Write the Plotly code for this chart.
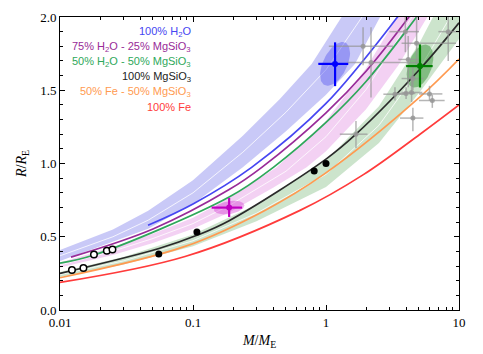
import numpy as np
import plotly.graph_objects as go

# composition curves, mass in M_E, radius in R_E
fe_m = [0.01, 0.0871, 0.638, 1.91, 5.09, 10]
fe_r = [0.188, 0.365, 0.68, 0.924, 1.20, 1.40]

fe50_m = [0.01, 0.0871, 0.347, 0.98, 5.09, 10]
fe50_r = [0.220, 0.434, 0.680, 0.931, 1.455, 1.713]

mgsio3_m = [0.01, 0.0555, 0.107, 0.187, 1.0, 1.68, 5.09, 10]
mgsio3_r = [0.25, 0.42, 0.51, 0.61, 1.03, 1.20, 1.645, 1.96]

h2o50_m = [0.01, 0.018, 0.187, 0.402, 1.0, 2.0, 4.8, 7.0]
h2o50_r = [0.32, 0.375, 0.771, 0.974, 1.28, 1.56, 2.0, 2.2]

h2o75_m = [0.0121, 0.05, 0.187, 0.329, 1.0, 2.0, 4.2, 6.0]
h2o75_r = [0.361, 0.553, 0.822, 0.974, 1.346, 1.63, 2.0, 2.2]

h2o_m = [0.0459, 0.1, 0.276, 1.0, 3.45, 5.0]
h2o_r = [0.578, 0.724, 0.974, 1.41, 2.0, 2.2]

# shaded model bands (lower edge, upper edge, middle line)
blue_lo_m = [0.01, 0.046, 0.1, 0.237, 0.5, 1.0, 1.65, 2.55, 4.0]
blue_lo_r = [0.335, 0.555, 0.724, 0.974, 1.22, 1.47, 1.68, 2.0, 2.3]
blue_hi_m = [0.01, 0.025, 0.046, 0.1, 0.237, 0.45, 0.78, 1.31, 2.0]
blue_hi_r = [0.41, 0.55, 0.677, 0.885, 1.19, 1.44, 1.68, 2.0, 2.3]
blue_mid_m = [0.01, 0.025, 0.046, 0.1, 0.237, 0.5, 1.0, 2.0]
blue_mid_r = [0.37, 0.50, 0.613, 0.80, 1.077, 1.35, 1.64, 2.04]

pink_lo_m = [0.01, 0.025, 0.05, 0.1, 0.187, 0.4, 0.715, 1.0, 2.0, 3.5, 5.78, 8.0]
pink_lo_r = [0.29, 0.375, 0.458, 0.555, 0.665, 0.835, 0.974, 1.084, 1.37, 1.67, 2.0, 2.25]
pink_hi_m = [0.01, 0.025, 0.05, 0.1, 0.187, 0.426, 1.0, 2.0, 3.43, 5.0]
pink_hi_r = [0.325, 0.43, 0.52, 0.63, 0.764, 0.974, 1.29, 1.65, 2.0, 2.3]
pink_mid_m = [0.01, 0.025, 0.05, 0.1, 0.187, 0.5, 1.0, 2.0, 4.5]
pink_mid_r = [0.307, 0.402, 0.488, 0.59, 0.713, 0.947, 1.183, 1.504, 2.01]

green_lo_m = [0.01, 0.03, 0.1, 0.3, 1.0, 2.5, 5.09, 10]
green_lo_r = [0.225, 0.31, 0.435, 0.605, 0.84, 1.14, 1.49, 1.85]
green_hi_m = [0.01, 0.03, 0.1, 0.3, 1.0, 2.5, 5.09, 6.38, 10]
green_hi_r = [0.26, 0.362, 0.515, 0.72, 1.02, 1.39, 1.83, 2.0, 2.39]
green_mid_m = [0.01, 0.03, 0.1, 0.3, 1.0, 2.5, 5.09, 10]
green_mid_r = [0.242, 0.335, 0.473, 0.66, 0.926, 1.26, 1.651, 2.10]

# solar system bodies
moons_m = [0.0123, 0.015, 0.018, 0.0225, 0.0248]
moons_r = [0.273, 0.286, 0.378, 0.404, 0.413]
planets_m = [0.0553, 0.107, 0.815, 1.0]
planets_r = [0.383, 0.532, 0.949, 1.0]

# exoplanets with error bars
gray_m = [1.90, 2.18, 3.95, 4.8, 4.15, 4.5, 4.0, 3.3, 4.4, 6.0, 6.3, 4.5, 1.68, 8.3]
gray_r = [1.80, 1.69, 1.90, 1.82, 1.71, 1.58, 1.478, 1.473, 1.485, 1.475, 1.43, 1.31, 1.20, 1.90]
gray_m_lo = [1.05, 1.45, 3.0, 3.7, 3.5, 3.7, 3.4, 2.7, 3.7, 5.0, 5.0, 3.6, 1.27, 7.0]
gray_m_hi = [3.2, 5.0, 5.0, 9.5, 5.2, 5.4, 4.7, 3.9, 5.3, 7.5, 7.8, 5.4, 2.05, 10.5]
gray_r_lo = [1.67, 1.45, 1.76, 1.65, 1.52, 1.50, 1.44, 1.43, 1.42, 1.43, 1.38, 1.22, 1.106, 1.70]
gray_r_hi = [1.93, 1.93, 2.05, 2.05, 1.87, 1.67, 1.52, 1.52, 1.60, 1.53, 1.47, 1.38, 1.29, 2.05]

# highlighted planets: mass, radius, mass range, radius range
hl_m = [0.187, 1.17, 5.09]
hl_r = [0.699, 1.68, 1.665]
hl_m_lo = [0.138, 0.875, 4.0]
hl_m_hi = [0.234, 1.47, 6.34]
hl_r_lo = [0.635, 1.528, 1.519]
hl_r_hi = [0.765, 1.827, 1.813]

fig = go.Figure()


def band(m_lo, r_lo, m_hi, r_hi, color):
    fig.add_trace(go.Scatter(x=m_lo, y=r_lo, mode="lines",
                             line=dict(width=0),
                             hoverinfo="skip", showlegend=False))
    fig.add_trace(go.Scatter(x=m_hi, y=r_hi, mode="lines",
                             line=dict(width=0),
                             fill="tonexty", fillcolor=color,
                             hoverinfo="skip", showlegend=False))


def thin(m, r, color="white", width=0.8):
    fig.add_trace(go.Scatter(x=m, y=r, mode="lines",
                             line=dict(color=color, width=width),
                             hoverinfo="skip", showlegend=False))


band(blue_lo_m, blue_lo_r, blue_hi_m, blue_hi_r, "rgba(120,120,235,0.40)")
band(pink_lo_m, pink_lo_r, pink_hi_m, pink_hi_r, "rgba(225,140,225,0.40)")
band(green_lo_m, green_lo_r, green_hi_m, green_hi_r, "rgba(120,185,120,0.38)")
thin(blue_mid_m, blue_mid_r)
thin(pink_mid_m, pink_mid_r)
thin(green_mid_m, green_mid_r)

# uncertainty ellipses
ell_colors = ["rgba(200,0,200,0.30)", "rgba(90,90,240,0.45)", "rgba(40,140,40,0.45)"]
ell_tilt = [1.25, 1.05, 1.15]
ell_yscale = [0.72, 1.0, 1.0]
t = np.linspace(0, 2 * np.pi, 90)
for i in range(3):
    cx = np.log10(hl_m[i])
    ax = (np.log10(hl_m_hi[i]) - np.log10(hl_m_lo[i])) / 2
    ay = (hl_r_hi[i] - hl_r_lo[i]) / 2 * ell_yscale[i]
    fig.add_trace(go.Scatter(x=10 ** (cx + ax * np.cos(t)),
                             y=hl_r[i] + ay * np.cos(t - ell_tilt[i]),
                             mode="lines", line=dict(width=0), fill="toself",
                             fillcolor=ell_colors[i], hoverinfo="skip",
                             showlegend=False))

curves = [
    (h2o_m, h2o_r, "#4646f2"),
    (h2o75_m, h2o75_r, "#982b98"),
    (h2o50_m, h2o50_r, "#2ea85a"),
    (mgsio3_m, mgsio3_r, "#2a2a2a"),
    (fe50_m, fe50_r, "#ff9a50"),
    (fe_m, fe_r, "#ff3b3b"),
]
for m, r, c in curves:
    fig.add_trace(go.Scatter(x=m, y=r, mode="lines",
                             line=dict(color=c, width=1.7, shape="spline"),
                             showlegend=False))

# exoplanets
fig.add_trace(go.Scatter(
    x=gray_m, y=gray_r, mode="markers",
    marker=dict(color="rgba(150,150,150,0.85)", size=5),
    error_x=dict(type="data", symmetric=False,
                 array=[h - m for h, m in zip(gray_m_hi, gray_m)],
                 arrayminus=[m - l for m, l in zip(gray_m, gray_m_lo)],
                 color="rgba(150,150,150,0.7)", thickness=1.5, width=0),
    error_y=dict(type="data", symmetric=False,
                 array=[h - r for h, r in zip(gray_r_hi, gray_r)],
                 arrayminus=[r - l for r, l in zip(gray_r, gray_r_lo)],
                 color="rgba(150,150,150,0.7)", thickness=1.5, width=0),
    showlegend=False))

fig.add_trace(go.Scatter(x=moons_m, y=moons_r, mode="markers",
                         marker=dict(color="white", size=6.5,
                                     line=dict(color="black", width=1.5)),
                         showlegend=False))
fig.add_trace(go.Scatter(x=planets_m, y=planets_r, mode="markers",
                         marker=dict(color="black", size=7),
                         showlegend=False))

hl_colors = ["#c000c0", "#0000ff", "#008000"]
for i in range(3):
    fig.add_trace(go.Scatter(
        x=[hl_m[i]], y=[hl_r[i]], mode="markers",
        marker=dict(color=hl_colors[i], size=6),
        error_x=dict(type="data", symmetric=False,
                     array=[hl_m_hi[i] - hl_m[i]], arrayminus=[hl_m[i] - hl_m_lo[i]],
                     color=hl_colors[i], thickness=2.2, width=0),
        error_y=dict(type="data", symmetric=False,
                     array=[hl_r_hi[i] - hl_r[i]], arrayminus=[hl_r[i] - hl_r_lo[i]],
                     color=hl_colors[i], thickness=2.2, width=0),
        showlegend=False))

labels = ["100% H<sub>2</sub>O",
          "75% H<sub>2</sub>O - 25% MgSiO<sub>3</sub>",
          "50% H<sub>2</sub>O - 50% MgSiO<sub>3</sub>",
          "100% MgSiO<sub>3</sub>",
          "50% Fe - 50% MgSiO<sub>3</sub>",
          "100% Fe"]
label_colors = ["#4646f2", "#982b98", "#2ea85a", "#222222", "#ff9a50", "#ff3b3b"]
for i, (txt, c) in enumerate(zip(labels, label_colors)):
    fig.add_annotation(x=0.334, y=0.948 - i * 0.051, xref="paper", yref="paper",
                       text=txt, showarrow=False, xanchor="right", yanchor="middle",
                       font=dict(family="Liberation Sans", size=11, color=c))

axis_common = dict(showline=True, linecolor="black", linewidth=1, mirror="allticks",
                   ticks="inside", ticklen=5, tickcolor="black", showgrid=False,
                   zeroline=False, automargin=False,
                   tickfont=dict(family="Liberation Serif", size=13, color="black"))
fig.update_xaxes(type="log", range=[-2, 1], dtick=1,
                 minor=dict(ticks="inside", ticklen=3, dtick="D1", tickcolor="black"),
                 title=dict(text="<i>M</i>/<i>M</i><sub>E</sub>", standoff=6,
                            font=dict(family="Liberation Serif", size=14, color="black")),
                 **axis_common)
fig.update_yaxes(range=[0, 2], dtick=0.5, tickformat=".1f",
                 minor=dict(ticks="inside", ticklen=3, dtick=0.1, tickcolor="black"),
                 title=dict(text="<i>R</i>/<i>R</i><sub>E</sub>", standoff=10,
                            font=dict(family="Liberation Serif", size=14, color="black")),
                 **axis_common)
# page body adds an 8px margin, so the figure is sized to fit inside the window
fig.update_layout(width=475, height=346, plot_bgcolor="white", paper_bgcolor="white",
                  margin=dict(l=52, r=24, t=9, b=44))
fig.write_html("out.html")
